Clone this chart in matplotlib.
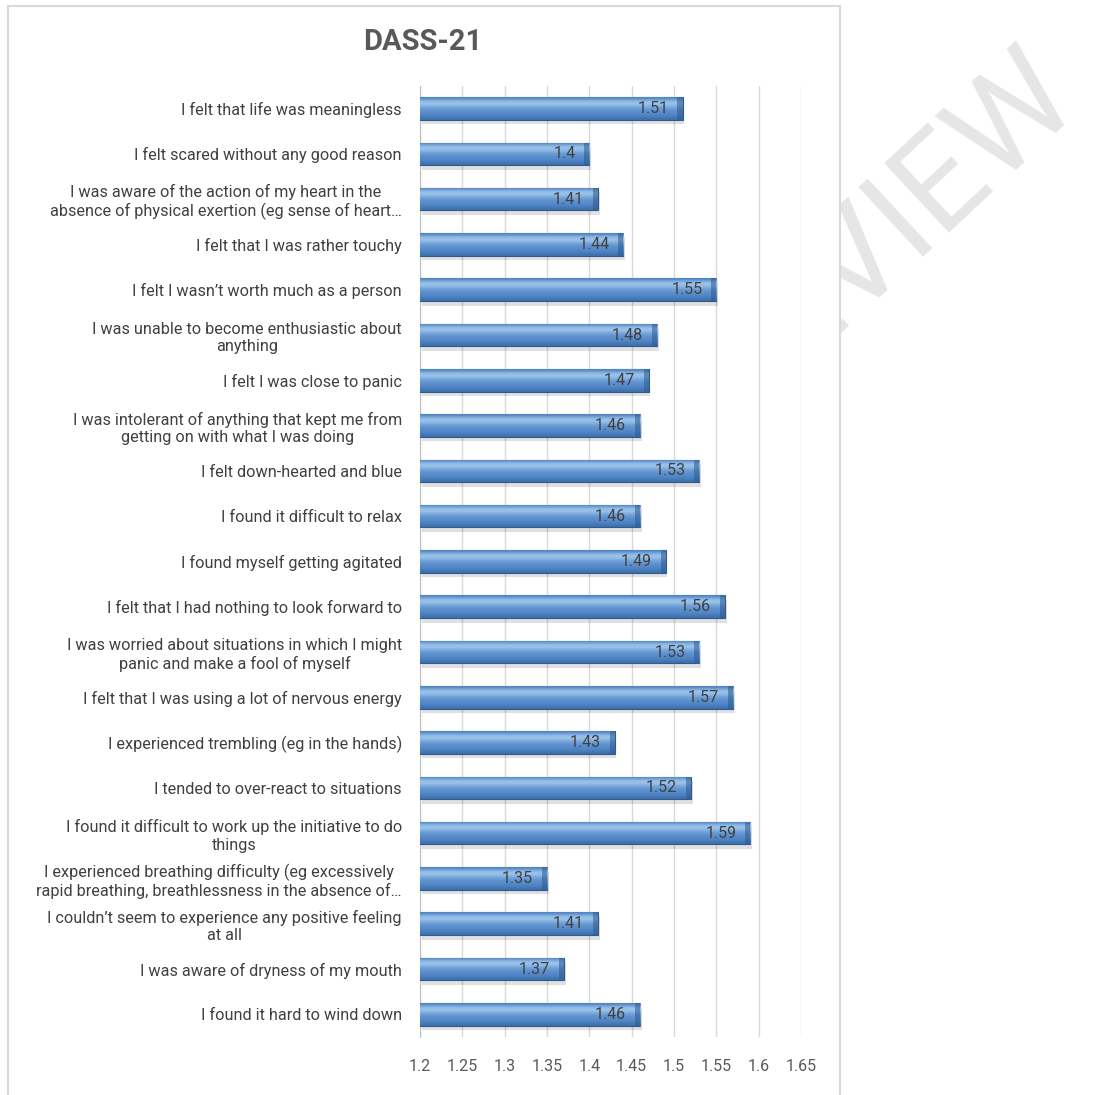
import matplotlib
matplotlib.use("Agg")
from matplotlib import pyplot as plt
from matplotlib.patches import Rectangle
import numpy as np

# items top to bottom as in the picture
labels = [
    "I felt that life was meaningless",
    "I felt scared without any good reason",
    "I was aware of the action of my heart in the\nabsence of physical exertion (eg sense of heart\u2026",
    "I felt that I was rather touchy",
    "I felt I wasn\u2019t worth much as a person",
    "I was unable to become enthusiastic about\nanything",
    "I felt I was close to panic",
    "I was intolerant of anything that kept me from\ngetting on with what I was doing",
    "I felt down-hearted and blue",
    "I found it difficult to relax",
    "I found myself getting agitated",
    "I felt that I had nothing to look forward to",
    "I was worried about situations in which I might\npanic and make a fool of myself",
    "I felt that I was using a lot of nervous energy",
    "I experienced trembling (eg in the hands)",
    "I tended to over-react to situations",
    "I found it difficult to work up the initiative to do\nthings",
    "I experienced breathing difficulty (eg excessively\nrapid breathing, breathlessness in the absence of\u2026",
    "I couldn\u2019t seem to experience any positive feeling\nat all",
    "I was aware of dryness of my mouth",
    "I found it hard to wind down",
]
scores = [1.51, 1.4, 1.41, 1.44, 1.55, 1.48, 1.47, 1.46, 1.53, 1.46, 1.49,
          1.56, 1.53, 1.57, 1.43, 1.52, 1.59, 1.35, 1.41, 1.37, 1.46]
xticks = [1.2, 1.25, 1.3, 1.35, 1.4, 1.45, 1.5, 1.55, 1.6, 1.65]

plt.rcParams['font.family'] = ['Roboto', 'DejaVu Sans']

fig = plt.figure(figsize=(10.99, 10.95), dpi=100)
fig.patch.set_facecolor('white')

# watermark behind the chart
fig.text(0.775, 0.76, "PREVIEW", rotation=43, fontsize=96, color='#E6E6E6',
         ha='center', va='center', fontweight='normal', zorder=-3)

# chart frame (white box covering the watermark)
fig.patches.append(Rectangle((0.0073, -0.02), 0.757, 1.0145, transform=fig.transFigure,
                             facecolor='white', edgecolor='#D9D9D9', lw=1.5, zorder=-1))

ax = fig.add_axes([0.3822, 0.053, 0.3467, 0.8685])
ax.set_facecolor('none')

base = 1.2
y = np.arange(len(labels))
bars = ax.barh(y, np.array(scores) - base, left=base, height=0.5,
               color='#4F81BD', edgecolor='#2F5A8E', lw=0.8, zorder=3)

# soft shadow under the bars
ax.barh(y + 0.1, np.array(scores) - base, left=base + 0.002, height=0.5,
        color='#000000', alpha=0.12, lw=0, zorder=2)

# gradient fill to imitate the bevelled bars
grad = np.array([0.45, 0.8, 0.97, 0.9, 0.72, 0.6, 0.55, 0.5, 0.4, 0.22]).reshape(-1, 1)
cmap = matplotlib.colors.LinearSegmentedColormap.from_list(
    'bev', ['#2E5C96', '#5288C8', '#A3C9EE'])
for b in bars:
    x0, y0, w, h = b.get_x(), b.get_y(), b.get_width(), b.get_height()
    im = ax.imshow(grad, cmap=cmap, vmin=0, vmax=1, aspect='auto',
                   extent=[x0, x0 + w, y0 + h, y0], zorder=3.5, interpolation='bicubic')
    im.set_clip_path(b)
    # darker bevel at the bar end
    ax.add_patch(Rectangle((x0 + w - 0.006, y0), 0.006, h, facecolor='#2F5A8E',
                           alpha=0.55, lw=0, zorder=3.6))

for yi, v in zip(y, scores):
    ax.annotate(str(v), (v, yi), xytext=(-10, 0), textcoords='offset points',
                ha='right', va='center', fontsize=11.5, color='#404040', zorder=5)

ax.set_xlim(1.2, 1.65)
ax.set_ylim(len(labels) - 0.5, -0.5)
ax.set_xticks(xticks)
ax.set_xticklabels([f"{t:g}" for t in xticks])
ax.set_yticks(y)
ax.set_yticklabels(labels, multialignment='center')
ax.tick_params(axis='y', length=0, pad=13, labelsize=11.7, labelcolor='#404040')
ax.tick_params(axis='x', length=0, pad=16, labelsize=11.5, labelcolor='#595959')
ax.grid(axis='x', color='#D9D9D9', lw=1, zorder=0)
for s in ['top', 'right', 'bottom']:
    ax.spines[s].set_visible(False)
ax.spines['left'].set_color('#BFBFBF')

fig.text(0.385, 0.962, "DASS-21", ha='center', va='center', fontsize=21,
         fontweight='bold', color='#595959')

fig.savefig('out.png', dpi=100)
